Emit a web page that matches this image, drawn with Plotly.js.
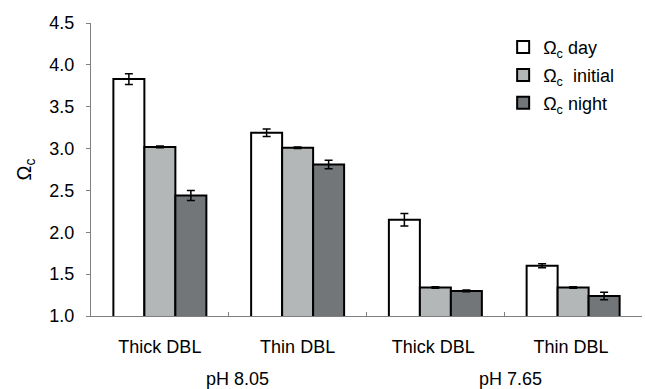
<!DOCTYPE html>
<html>
<head>
<meta charset="utf-8">
<script src="https://cdn.plot.ly/plotly-3.0.1.min.js"></script>
<style>html,body{margin:0;padding:0;background:#fff;}#chart{width:645px;height:389px;}</style>
</head>
<body>
<div id="chart"></div>
<script>
const categories = ["Thick DBL", "Thin DBL", "Thick DBL ", "Thin DBL "];
const groupLabels = ["pH 8.05", "pH 7.65"];
const dayValues = [3.83, 3.19, 2.15, 1.60];
const dayErrors = [0.065, 0.045, 0.075, 0.025];
const initialValues = [3.02, 3.01, 1.34, 1.34];
const initialErrors = [0.01, 0.01, 0.01, 0.01];
const nightValues = [2.44, 2.81, 1.30, 1.24];
const nightErrors = [0.06, 0.05, 0.01, 0.045];
const seriesNames = ["Ω<sub>c</sub> day", "Ω<sub>c</sub>  initial", "Ω<sub>c</sub> night"];
const seriesColors = ["#ffffff", "#b4b7b7", "#737679"];

const font = "Liberation Sans, Arial, sans-serif";
function mk(name, y, err, color, g) {
  return {
    type: "bar", x: categories, y: y, name: name, legendgroup: g,
    marker: {color: color, line: {color: "#000", width: 2}},
    error_y: {type: "data", array: err, visible: true, color: "#000", thickness: 1.5, width: 4}
  };
}
const data = [
  mk(seriesNames[0], dayValues, dayErrors, seriesColors[0], "a"),
  mk(seriesNames[1], initialValues, initialErrors, seriesColors[1], "b"),
  mk(seriesNames[2], nightValues, nightErrors, seriesColors[2], "c")
];
const layout = {
  width: 645, height: 389,
  margin: {l: 91, r: 3, t: 23, b: 73},
  paper_bgcolor: "#fff", plot_bgcolor: "#fff",
  font: {family: font, size: 18, color: "#000"},
  barmode: "group", bargap: 0.325, bargroupgap: 0,
  showlegend: true,
  legend: {x: 0.748, y: 0.98, xanchor: "left", yanchor: "top", bgcolor: "rgba(0,0,0,0)",
           font: {family: font, size: 18}, tracegroupgap: 1.5, itemwidth: 30},
  xaxis: {
    type: "category", range: [-0.5, 3.5], showgrid: false, zeroline: false,
    showline: true, linecolor: "#808080", linewidth: 1,
    ticks: "inside", ticklen: 4, tickcolor: "#808080", tickson: "boundaries",
    tickfont: {family: font, size: 18}, ticklabelstandoff: 14
  },
  yaxis: {
    range: [1.0, 4.5], dtick: 0.5, tickformat: ".1f", showgrid: false, zeroline: false,
    showline: true, linecolor: "#808080", linewidth: 1,
    ticks: "outside", ticklen: 4, tickcolor: "#808080",
    tickfont: {family: font, size: 18}, ticklabelstandoff: 8,
    title: {text: "Ω<sub>c</sub>", font: {family: font, size: 20}, standoff: 12}
  },
  annotations: [
    {text: groupLabels[0], xref: "paper", yref: "paper", x: 0.265, y: -0.215, xanchor: "center", yanchor: "middle", showarrow: false, font: {family: font, size: 18}},
    {text: groupLabels[1], xref: "paper", yref: "paper", x: 0.762, y: -0.215, xanchor: "center", yanchor: "middle", showarrow: false, font: {family: font, size: 18}}
  ]
};
Plotly.newPlot("chart", data, layout, {displayModeBar: false, staticPlot: true});
</script>
</body>
</html>
